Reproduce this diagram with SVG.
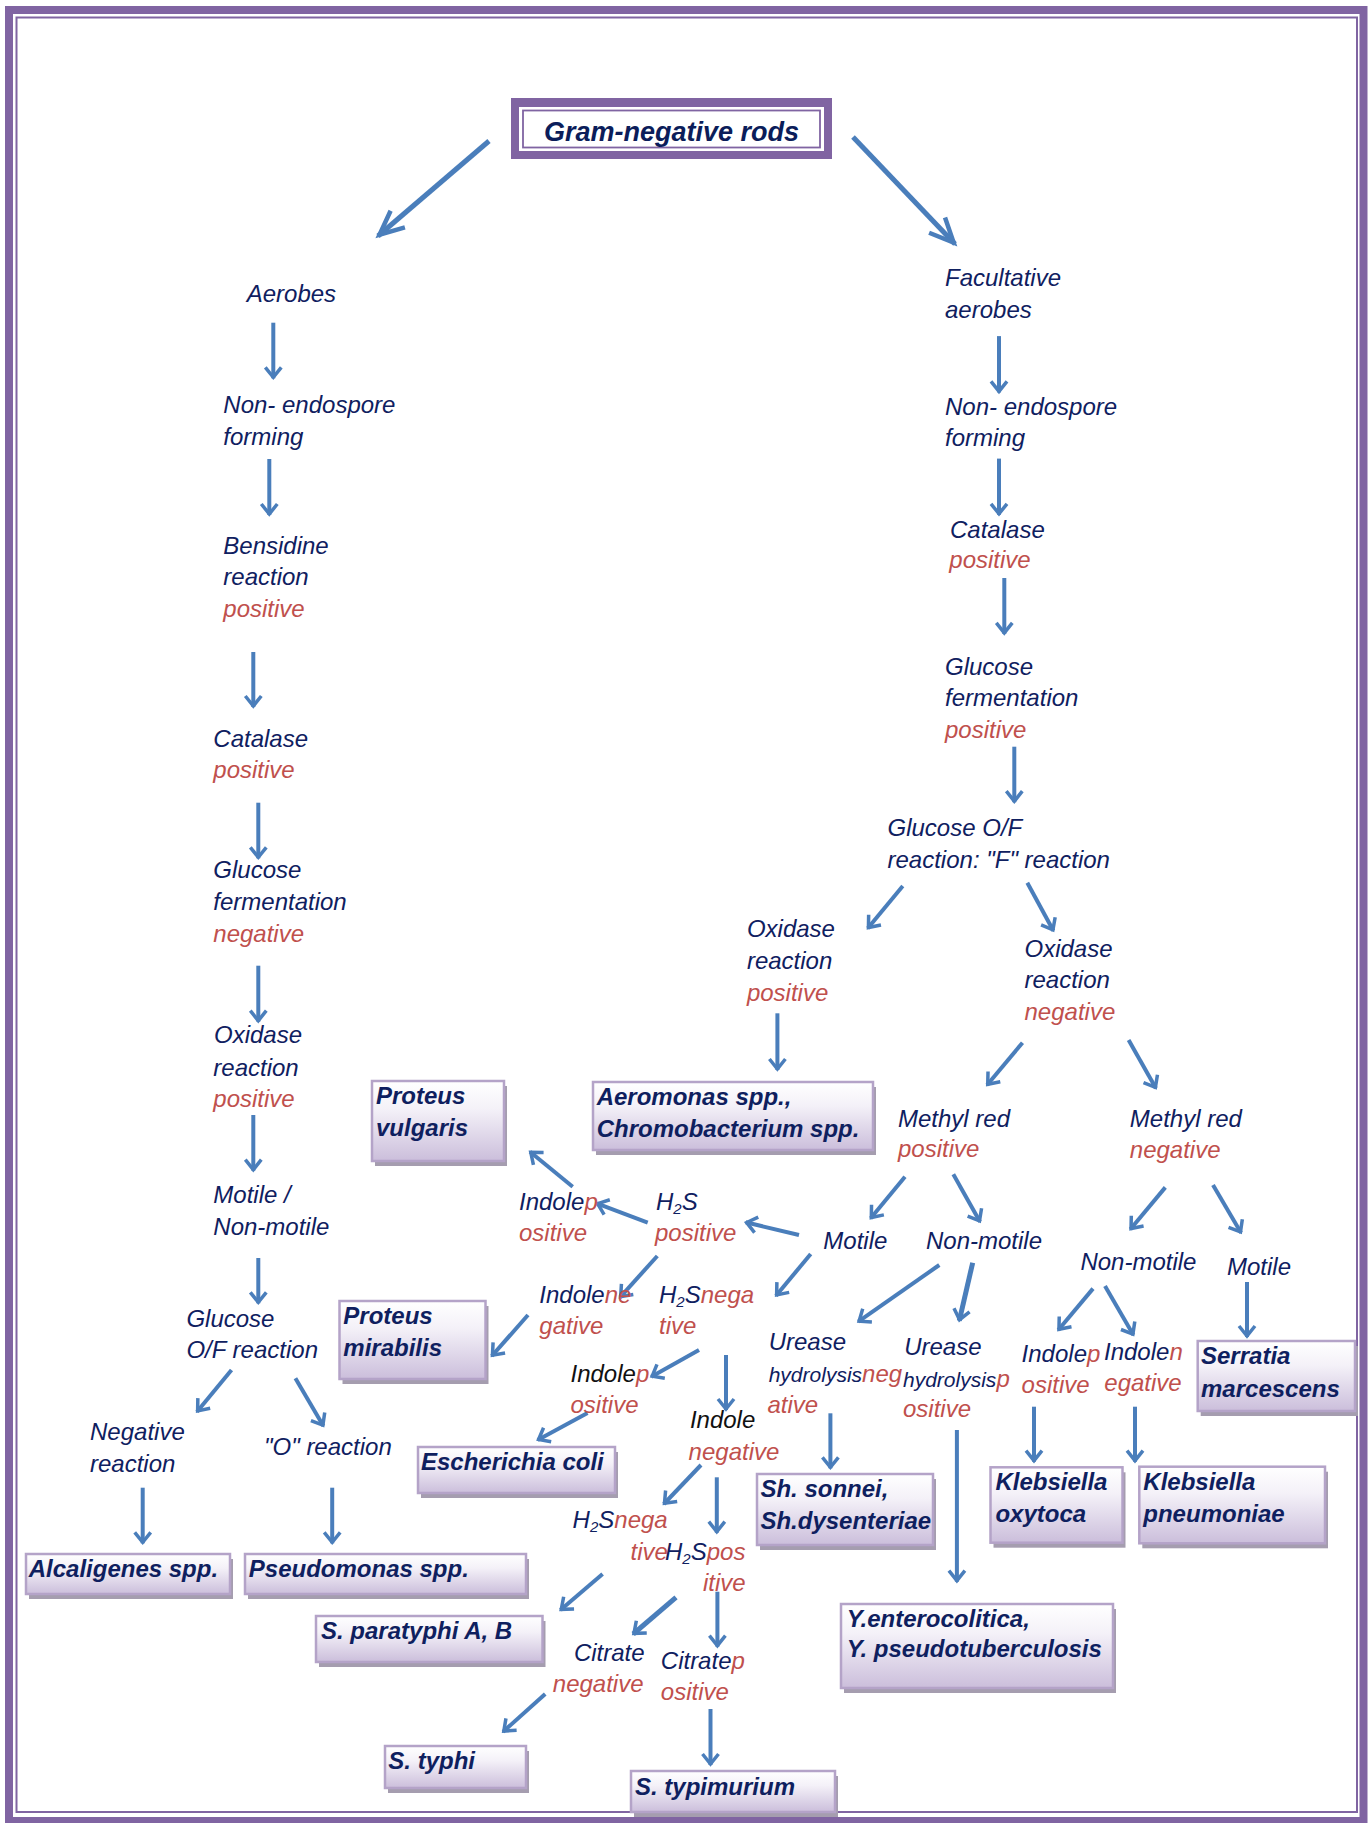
<svg xmlns="http://www.w3.org/2000/svg" width="1370" height="1823" viewBox="0 0 1370 1823">
<defs>
<style>
.t{font-family:"Liberation Sans",Arial,sans-serif;font-style:italic;font-size:24px;fill:#0F2060}
.r{fill:#C0504D}
.k{fill:#111111}
.s{font-size:21px}
.b{font-family:"Liberation Sans",Arial,sans-serif;font-style:italic;font-weight:bold;font-size:24px;fill:#0F1F5F}
.box{fill:url(#bg);stroke:#B4A3C8;stroke-width:2.5}
.sh{fill:#A59DAF}
.c{stroke:#4A7EBB;stroke-width:4;fill:none;marker-end:url(#ah)}
.c2{stroke:#4A7EBB;stroke-width:5;fill:none;marker-end:url(#ah)}
.cb{stroke:#4A7EBB;stroke-width:5;fill:none;marker-end:url(#ahb)}
</style>
<linearGradient id="bg" x1="0" y1="0" x2="0" y2="1">
<stop offset="0" stop-color="#FFFFFF"/>
<stop offset="0.35" stop-color="#F4F1F8"/>
<stop offset="1" stop-color="#CBBEDB"/>
</linearGradient>
<marker id="ah" markerUnits="userSpaceOnUse" markerWidth="30" markerHeight="30" viewBox="-20 -15 30 30" refX="0" refY="0" orient="auto">
<path d="M-11,-8 L-1,0 L-11,8" fill="none" stroke="#4A7EBB" stroke-width="3.5" stroke-linejoin="miter"/>
</marker>
<marker id="ahb" markerUnits="userSpaceOnUse" markerWidth="50" markerHeight="50" viewBox="-40 -25 50 50" refX="0" refY="0" orient="auto">
<path d="M-26,-11 L-2,0 L-26,11" fill="none" stroke="#4A7EBB" stroke-width="4.5" stroke-linejoin="miter"/>
</marker>
</defs>
<rect width="1370" height="1823" fill="#FFFFFF"/>
<g id="frame">
<rect x="9" y="10" width="1354.5" height="1811" fill="none" stroke="#8064A2" stroke-width="8"/>
<rect x="16.5" y="17.5" width="1340.5" height="1794.5" fill="none" stroke="#8064A2" stroke-width="2"/>
</g>
<g id="title">
<rect x="511" y="98" width="321" height="61" fill="#8064A2"/>
<rect x="519" y="107" width="305" height="44" fill="#FFFFFF"/>
<rect x="523" y="110.5" width="297" height="37" fill="none" stroke="#8064A2" stroke-width="1.8"/>
<text x="671.5" y="141" text-anchor="middle" class="b" style="font-size:27px;fill:#0B1D5A">Gram-negative rods</text>
</g>
<g id="connectors">
<line class="cb" x1="489" y1="141" x2="378" y2="236"/>
<line class="cb" x1="853" y1="137" x2="955" y2="244"/>
<line class="c" x1="273.3" y1="322.7" x2="273.3" y2="378.3"/>
<line class="c" x1="269.3" y1="459" x2="269.3" y2="515"/>
<line class="c" x1="253.3" y1="652" x2="253.3" y2="707"/>
<line class="c" x1="258.3" y1="802.7" x2="258.3" y2="858.3"/>
<line class="c" x1="258.3" y1="965.7" x2="258.3" y2="1021.7"/>
<line class="c" x1="253.3" y1="1115" x2="253.3" y2="1170.7"/>
<line class="c" x1="258.3" y1="1258" x2="258.3" y2="1303.3"/>
<line class="c" x1="231.5" y1="1370" x2="197" y2="1411.7"/>
<line class="c" x1="295.4" y1="1378.3" x2="323.4" y2="1426"/>
<line class="c" x1="142.7" y1="1487.7" x2="142.7" y2="1543.3"/>
<line class="c" x1="332.2" y1="1487.7" x2="332.2" y2="1543.3"/>
<line class="c" x1="999" y1="336.1" x2="999" y2="392.4"/>
<line class="c" x1="999" y1="458.6" x2="999" y2="514.8"/>
<line class="c" x1="1004.3" y1="578" x2="1004.3" y2="633.9"/>
<line class="c" x1="1014.3" y1="746.7" x2="1014.3" y2="802.2"/>
<line class="c" x1="902.8" y1="886" x2="867.8" y2="928.3"/>
<line class="c" x1="1027.3" y1="882.7" x2="1053.4" y2="930.7"/>
<line class="c" x1="777.4" y1="1013.3" x2="777.4" y2="1070"/>
<line class="c" x1="1022.5" y1="1042.7" x2="987.1" y2="1085"/>
<line class="c" x1="1128.6" y1="1040" x2="1155.9" y2="1088.3"/>
<line class="c" x1="905" y1="1176.7" x2="870.7" y2="1218.3"/>
<line class="c" x1="953.3" y1="1174.3" x2="980" y2="1221.7"/>
<line class="c" x1="799" y1="1235" x2="745.7" y2="1222.3"/>
<line class="c" x1="647.7" y1="1222.7" x2="596.7" y2="1203.3"/>
<line class="c" x1="572.7" y1="1186.7" x2="530" y2="1151.7"/>
<line class="c" x1="657.3" y1="1256" x2="620" y2="1297.3"/>
<line class="c" x1="810.7" y1="1254" x2="776" y2="1295.7"/>
<line class="c" x1="528" y1="1315" x2="491.8" y2="1356"/>
<line class="c" x1="939.3" y1="1265" x2="858.3" y2="1321.7"/>
<line class="c2" x1="972.7" y1="1262.7" x2="959.3" y2="1320.7"/>
<line class="c" x1="699" y1="1350" x2="651.3" y2="1376.7"/>
<line class="c" x1="726" y1="1355" x2="726" y2="1410"/>
<line class="c" x1="587.5" y1="1413" x2="537.7" y2="1440"/>
<line class="c" x1="701" y1="1465" x2="663.8" y2="1504"/>
<line class="c" x1="716.8" y1="1477.3" x2="716.8" y2="1532.7"/>
<line class="c" x1="830.4" y1="1413.3" x2="830.4" y2="1468.3"/>
<line class="c" x1="956.9" y1="1430" x2="956.9" y2="1581.7"/>
<line class="c" x1="602.6" y1="1574" x2="560.5" y2="1610"/>
<line class="c2" x1="676" y1="1597.3" x2="633.2" y2="1634"/>
<line class="c" x1="717.4" y1="1591.7" x2="717.4" y2="1646.7"/>
<line class="c" x1="545.2" y1="1694" x2="503.1" y2="1731.7"/>
<line class="c" x1="710.5" y1="1709" x2="710.5" y2="1765"/>
<line class="c" x1="1165.3" y1="1187.4" x2="1130.4" y2="1229.3"/>
<line class="c" x1="1213" y1="1185" x2="1241" y2="1232.8"/>
<line class="c" x1="1247" y1="1282" x2="1247" y2="1337"/>
<line class="c" x1="1093" y1="1288.6" x2="1058.3" y2="1330"/>
<line class="c" x1="1105" y1="1286" x2="1133.4" y2="1335"/>
<line class="c" x1="1034" y1="1406.7" x2="1034" y2="1461.7"/>
<line class="c" x1="1135" y1="1406.7" x2="1135" y2="1461.7"/>
</g>
<g id="aerobes"><text class="t" x="246.7" y="301.7">Aerobes</text></g>
<g id="l-nonendo"><text class="t" x="223.3" y="413.3">Non- endospore</text><text class="t" x="223.3" y="445">forming</text></g>
<g id="l-bensidine"><text class="t" x="223.3" y="554">Bensidine</text><text class="t" x="223.3" y="585">reaction</text><text class="t r" x="223.3" y="616.7">positive</text></g>
<g id="l-catalase"><text class="t" x="213.3" y="746.7">Catalase</text><text class="t r" x="213.3" y="778">positive</text></g>
<g id="l-glucose"><text class="t" x="213.3" y="878.3">Glucose</text><text class="t" x="213.3" y="910">fermentation</text><text class="t r" x="213.3" y="941.7">negative</text></g>
<g id="l-oxidase"><text class="t" x="214" y="1043.3">Oxidase</text><text class="t" x="213.3" y="1076">reaction</text><text class="t r" x="213.3" y="1107.3">positive</text></g>
<g id="l-motile"><text class="t" x="213.3" y="1203">Motile /</text><text class="t" x="213.3" y="1235">Non-motile</text></g>
<g id="l-glucoseof"><text class="t" x="186.4" y="1326.7">Glucose</text><text class="t" x="186.4" y="1358.3">O/F reaction</text></g>
<g id="l-negative"><text class="t" x="90" y="1440">Negative</text><text class="t" x="90" y="1471.7">reaction</text></g>
<g id="l-oreaction"><text class="t" x="264" y="1455">"O" reaction</text></g>
<g id="facultative"><text class="t" x="945" y="286.4">Facultative</text><text class="t" x="945" y="318.1">aerobes</text></g>
<g id="r-nonendo"><text class="t" x="945" y="414.6">Non- endospore</text><text class="t" x="945" y="446">forming</text></g>
<g id="r-catalase"><text class="t" x="950" y="537.8">Catalase</text><text class="t r" x="949.3" y="568.4">positive</text></g>
<g id="r-glucose"><text class="t" x="945" y="674.8">Glucose</text><text class="t" x="945" y="706.2">fermentation</text><text class="t r" x="945" y="738">positive</text></g>
<g id="r-glucoseof"><text class="t" x="887.5" y="835.5">Glucose O/F</text><text class="t" x="887.5" y="868.3">reaction: "F" reaction</text></g>
<g id="oxidase-pos"><text class="t" x="746.9" y="937.3">Oxidase</text><text class="t" x="746.9" y="969.3">reaction</text><text class="t r" x="746.9" y="1000.7">positive</text></g>
<g id="oxidase-neg"><text class="t" x="1024.5" y="957.3">Oxidase</text><text class="t" x="1024.5" y="988.3">reaction</text><text class="t r" x="1024.5" y="1020">negative</text></g>
<g id="mr-pos"><text class="t" x="898" y="1126.7">Methyl red</text><text class="t r" x="898" y="1157.3">positive</text></g>
<g id="mr-neg"><text class="t" x="1129.8" y="1126.7">Methyl red</text><text class="t r" x="1129.8" y="1158">negative</text></g>
<g id="motile-a"><text class="t" x="823.3" y="1249">Motile</text></g>
<g id="nonmotile-a"><text class="t" x="926" y="1249">Non-motile</text></g>
<g id="h2s-pos"><text class="t" x="656" y="1210">H<tspan font-size="15" dy="4">2</tspan><tspan dy="-4">S</tspan></text><text class="t r" x="655" y="1240.7">positive</text></g>
<g id="indole-pos-a"><text class="t" x="519" y="1210">Indole<tspan class="r">p</tspan></text><text class="t r" x="519" y="1240.7">ositive</text></g>
<g id="indole-neg-a"><text class="t" x="539.3" y="1303.3">Indole<tspan class="r">ne</tspan></text><text class="t r" x="539.3" y="1334">gative</text></g>
<g id="h2s-neg-a"><text class="t" x="659" y="1303.3">H<tspan font-size="15" dy="4">2</tspan><tspan dy="-4">S</tspan><tspan class="r">nega</tspan></text><text class="t r" x="659" y="1334">tive</text></g>
<g id="indole-pos-b"><text class="t" x="570.5" y="1381.7"><tspan class="k">Indole</tspan><tspan class="r">p</tspan></text><text class="t r" x="570.5" y="1412.7">ositive</text></g>
<g id="indole-neg-b"><text class="t k" x="689.9" y="1428.3">Indole</text><text class="t r" x="688.6" y="1460">negative</text></g>
<g id="urease-neg"><text class="t" x="768.7" y="1350">Urease</text><text class="t s" x="768.7" y="1381.7">hydrolysis<tspan class="r" font-size="24">neg</tspan></text><text class="t r" x="767.4" y="1413.3">ative</text></g>
<g id="urease-pos"><text class="t" x="904.2" y="1355">Urease</text><text class="t s" x="903" y="1387.3">hydrolysis<tspan class="r" font-size="24">p</tspan></text><text class="t r" x="903" y="1417.3">ositive</text></g>
<g id="nonmotile-b"><text class="t" x="1080.4" y="1270">Non-motile</text></g>
<g id="motile-b"><text class="t" x="1227" y="1275">Motile</text></g>
<g id="indole-pos-c"><text class="t" x="1021.6" y="1361.7">Indole<tspan class="r">p</tspan></text><text class="t r" x="1021.6" y="1392.7">ositive</text></g>
<g id="indole-neg-c"><text class="t" x="1104" y="1360">Indole<tspan class="r">n</tspan></text><text class="t r" x="1104.3" y="1390.7">egative</text></g>
<g id="h2s-neg-b"><text class="t" x="572.6" y="1528.3">H<tspan font-size="15" dy="4">2</tspan><tspan dy="-4">S</tspan><tspan class="r">nega</tspan></text><text class="t r" x="630.6" y="1560">tive</text></g>
<g id="h2s-pos-b"><text class="t" x="665" y="1560">H<tspan font-size="15" dy="4">2</tspan><tspan dy="-4">S</tspan><tspan class="r">pos</tspan></text><text class="t r" x="703" y="1590.7">itive</text></g>
<g id="citrate-neg"><text class="t" x="573.9" y="1660.7">Citrate</text><text class="t r" x="552.8" y="1691.7">negative</text></g>
<g id="citrate-pos"><text class="t" x="660.8" y="1669">Citrate<tspan class="r">p</tspan></text><text class="t r" x="660.8" y="1700">ositive</text></g>
<g id="proteus-vulgaris"><rect class="sh" x="375" y="1086" width="132" height="80"/><rect class="box" x="372" y="1081" width="132" height="80"/><text class="b" x="376" y="1104.3">Proteus</text><text class="b" x="376" y="1136">vulgaris</text></g>
<g id="aeromonas"><rect class="sh" x="596" y="1087" width="280" height="68"/><rect class="box" x="593" y="1082" width="280" height="68"/><text class="b" x="596.7" y="1105">Aeromonas spp.,</text><text class="b" x="596.7" y="1136.7">Chromobacterium spp.</text></g>
<g id="proteus-mirabilis"><rect class="sh" x="342.5" y="1306" width="146" height="78"/><rect class="box" x="339.5" y="1301" width="146" height="78"/><text class="b" x="343.3" y="1324">Proteus</text><text class="b" x="343.3" y="1356">mirabilis</text></g>
<g id="ecoli"><rect class="sh" x="421" y="1452" width="197" height="46"/><rect class="box" x="418" y="1447" width="197" height="46"/><text class="b" x="421" y="1470">Escherichia coli</text></g>
<g id="alcaligenes"><rect class="sh" x="29" y="1559" width="204" height="40"/><rect class="box" x="26" y="1554" width="204" height="40"/><text class="b" x="28.7" y="1577.3">Alcaligenes spp.</text></g>
<g id="pseudomonas"><rect class="sh" x="248" y="1559" width="281" height="40"/><rect class="box" x="245" y="1554" width="281" height="40"/><text class="b" x="248.8" y="1577.3">Pseudomonas spp.</text></g>
<g id="paratyphi"><rect class="sh" x="319" y="1621" width="226.5" height="46"/><rect class="box" x="316" y="1616" width="226.5" height="46"/><text class="b" x="321" y="1639">S. paratyphi A, B</text></g>
<g id="typhi"><rect class="sh" x="388" y="1751" width="141" height="42"/><rect class="box" x="385" y="1746" width="141" height="42"/><text class="b" x="388.3" y="1769.3">S. typhi</text></g>
<g id="typimurium"><rect class="sh" x="634" y="1776" width="204" height="41"/><rect class="box" x="631" y="1771" width="204" height="41"/><text class="b" x="635" y="1795">S. typimurium</text></g>
<g id="shigella"><rect class="sh" x="760" y="1479" width="176" height="71"/><rect class="box" x="757" y="1474" width="176" height="71"/><text class="b" x="760.4" y="1497.3">Sh. sonnei,</text><text class="b" x="760.4" y="1529.3">Sh.dysenteriae</text></g>
<g id="yersinia"><rect class="sh" x="844" y="1609" width="272" height="84"/><rect class="box" x="841" y="1604" width="272" height="84"/><text class="b" x="846.7" y="1626.7">Y.enterocolitica,</text><text class="b" x="846.7" y="1657.3">Y. pseudotuberculosis</text></g>
<g id="k-oxytoca"><rect class="sh" x="993.5" y="1472.3" width="132" height="75.4"/><rect class="box" x="990.5" y="1467.3" width="132" height="75.4"/><text class="b" x="995.4" y="1490">Klebsiella</text><text class="b" x="995.4" y="1521.7">oxytoca</text></g>
<g id="k-pneumoniae"><rect class="sh" x="1142.3" y="1471.7" width="185.7" height="76.6"/><rect class="box" x="1139.3" y="1466.7" width="185.7" height="76.6"/><text class="b" x="1143.3" y="1490">Klebsiella</text><text class="b" x="1143.3" y="1521.7">pneumoniae</text></g>
<g id="serratia"><rect class="sh" x="1200.7" y="1346" width="157.3" height="70"/><rect class="box" x="1197.7" y="1341" width="157.3" height="70"/><text class="b" x="1201" y="1364.3">Serratia</text><text class="b" x="1201" y="1396.7">marcescens</text></g>
</svg>
